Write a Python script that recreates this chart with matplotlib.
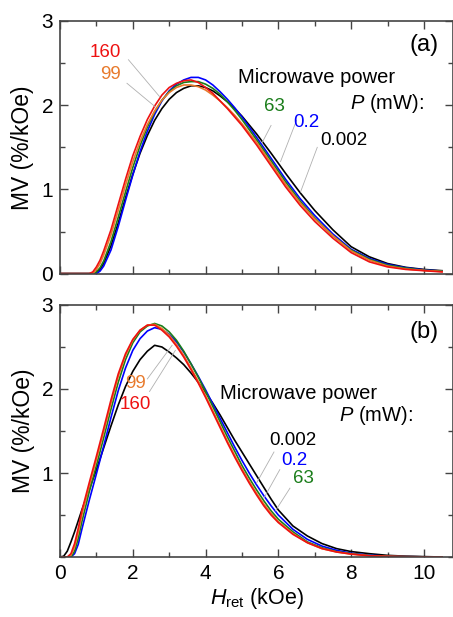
import matplotlib
matplotlib.use("Agg")
import matplotlib.pyplot as plt
from matplotlib.ticker import MultipleLocator

plt.rcParams['font.family'] = ['Liberation Sans', 'DejaVu Sans']
plt.rcParams['mathtext.fontset'] = 'custom'
plt.rcParams['mathtext.rm'] = 'Liberation Sans'
plt.rcParams['mathtext.it'] = 'Liberation Sans:italic'

# power levels (mW) and colours
powers = ['0.002', '0.2', '63', '99', '160']
colors = ['black', '#0000ff', '#1a7d1a', '#e87a2c', '#ee1111']

# panel (a)
xa = [0, 0.8, 0.9, 1.0, 1.1, 1.2, 1.4, 1.6, 1.8, 2.0, 2.2, 2.4, 2.6, 2.8, 3.0, 3.2, 3.4, 3.6,
      3.8, 4.0, 4.2, 4.4, 4.6, 4.8, 5.0, 5.4, 5.8, 6.2, 6.6, 7.0, 7.5, 8.0, 8.5, 9.0, 9.5, 10.0, 10.5]
a_0002 = [0, 0, 0, 0.01, 0.05, 0.12, 0.33, 0.60, 0.90, 1.18, 1.43, 1.64, 1.82, 1.96, 2.07, 2.15, 2.20, 2.23,
          2.23, 2.21, 2.17, 2.11, 2.04, 1.96, 1.87, 1.66, 1.43, 1.19, 0.96, 0.75, 0.52, 0.32, 0.20, 0.12, 0.075, 0.05, 0.035]
a_02 = [0, 0, 0, 0, 0.03, 0.09, 0.28, 0.56, 0.87, 1.17, 1.45, 1.69, 1.89, 2.05, 2.17, 2.25, 2.30, 2.33,
        2.33, 2.30, 2.24, 2.16, 2.07, 1.97, 1.86, 1.62, 1.37, 1.12, 0.89, 0.69, 0.47, 0.29, 0.18, 0.11, 0.07, 0.045, 0.03]
a_63 = [0, 0, 0, 0.02, 0.07, 0.15, 0.38, 0.67, 0.97, 1.26, 1.52, 1.74, 1.92, 2.06, 2.16, 2.23, 2.27, 2.28,
        2.28, 2.25, 2.20, 2.13, 2.04, 1.94, 1.83, 1.59, 1.34, 1.09, 0.86, 0.66, 0.45, 0.28, 0.17, 0.10, 0.065, 0.04, 0.03]
a_99 = [0, 0, 0, 0.05, 0.12, 0.22, 0.46, 0.75, 1.05, 1.33, 1.57, 1.77, 1.93, 2.06, 2.15, 2.21, 2.24, 2.24,
        2.22, 2.18, 2.12, 2.05, 1.97, 1.88, 1.78, 1.56, 1.31, 1.06, 0.84, 0.65, 0.45, 0.27, 0.16, 0.09, 0.055, 0.038, 0.025]
a_160 = [0, 0, 0.02, 0.08, 0.16, 0.27, 0.52, 0.82, 1.12, 1.40, 1.63, 1.83, 1.99, 2.12, 2.21, 2.26, 2.29, 2.30,
         2.27, 2.21, 2.14, 2.05, 1.96, 1.86, 1.76, 1.53, 1.28, 1.03, 0.81, 0.62, 0.42, 0.25, 0.14, 0.08, 0.05, 0.035, 0.02]

# panel (b)
xb = [0, 0.1, 0.2, 0.3, 0.4, 0.5, 0.6, 0.8, 1.0, 1.2, 1.4, 1.6, 1.8, 2.0, 2.2, 2.4, 2.6, 2.8, 3.0, 3.2, 3.4,
      3.6, 3.8, 4.0, 4.2, 4.4, 4.6, 4.8, 5.0, 5.2, 5.4, 5.6, 5.8, 6.0, 6.4, 6.8, 7.2, 7.6, 8.0, 8.5, 9.0, 9.5, 10.0, 10.5]
b_0002 = [0, 0.01, 0.07, 0.18, 0.30, 0.43, 0.56, 0.80, 1.04, 1.30, 1.56, 1.81, 2.03, 2.21, 2.35, 2.45, 2.52, 2.50, 2.44, 2.37, 2.29,
          2.19, 2.08, 1.96, 1.83, 1.69, 1.54, 1.39, 1.25, 1.11, 0.97, 0.83, 0.69, 0.56, 0.37, 0.25, 0.16, 0.10, 0.065, 0.04, 0.02, 0.01, 0.005, 0]
b_02 = [0, 0, 0, 0, 0.04, 0.15, 0.33, 0.67, 0.99, 1.32, 1.66, 1.98, 2.25, 2.46, 2.60, 2.69, 2.73, 2.71, 2.65, 2.56, 2.44,
        2.30, 2.15, 1.99, 1.82, 1.65, 1.48, 1.31, 1.15, 1.00, 0.86, 0.73, 0.61, 0.50, 0.33, 0.21, 0.13, 0.08, 0.045, 0.022, 0.01, 0.005, 0.002, 0]
b_63 = [0, 0, 0, 0, 0.07, 0.22, 0.42, 0.77, 1.09, 1.42, 1.76, 2.08, 2.35, 2.55, 2.68, 2.75, 2.78, 2.75, 2.68, 2.58, 2.45,
        2.30, 2.14, 1.97, 1.79, 1.61, 1.43, 1.26, 1.09, 0.94, 0.80, 0.67, 0.55, 0.45, 0.30, 0.18, 0.11, 0.065, 0.04, 0.018, 0.009, 0.005, 0.002, 0]
b_99 = [0, 0, 0, 0.02, 0.12, 0.29, 0.50, 0.84, 1.16, 1.49, 1.83, 2.15, 2.40, 2.58, 2.70, 2.76, 2.77, 2.72, 2.64, 2.53, 2.40,
        2.25, 2.09, 1.92, 1.74, 1.56, 1.38, 1.21, 1.05, 0.90, 0.76, 0.63, 0.52, 0.42, 0.28, 0.17, 0.10, 0.06, 0.035, 0.015, 0.008, 0.004, 0.002, 0]
b_160 = [0, 0, 0, 0.04, 0.16, 0.34, 0.55, 0.88, 1.20, 1.53, 1.87, 2.18, 2.42, 2.59, 2.70, 2.76, 2.76, 2.70, 2.62, 2.51, 2.38,
         2.23, 2.07, 1.90, 1.72, 1.54, 1.36, 1.19, 1.03, 0.88, 0.74, 0.61, 0.50, 0.41, 0.27, 0.17, 0.10, 0.06, 0.035, 0.015, 0.008, 0.004, 0.002, 0]

curves_a = [a_0002, a_02, a_63, a_99, a_160]
curves_b = [b_0002, b_02, b_63, b_99, b_160]

# label text positions and leader lines: (text x, text y, line from, line to)
labels_a = [(7.79, 1.58, (7.07, 1.50), (6.61, 0.97)),
            (6.78, 1.79, (6.50, 1.82), (6.06, 1.33)),
            (5.90, 1.98, (5.80, 1.76), (5.56, 1.56)),
            (1.40, 2.36, (1.84, 2.26), (2.62, 1.98)),
            (1.24, 2.62, (1.88, 2.54), (2.74, 2.10))]
labels_b = [(6.40, 1.39, (5.88, 1.25), (5.40, 0.88)),
            (6.43, 1.15, (6.04, 1.04), (5.60, 0.70)),
            (6.70, 0.94, (6.32, 0.82), (5.92, 0.55)),
            (2.08, 2.06, (2.40, 2.12), (3.08, 2.52)),
            (2.08, 1.81, (2.46, 1.97), (3.17, 2.46))]

fig = plt.figure(figsize=(4.53, 6.17), dpi=100)
ax1 = fig.add_axes([0.1325, 0.5565, 0.8675, 0.4095])
ax2 = fig.add_axes([0.1325, 0.0972, 0.8675, 0.4085])

spine_col = '#444444'
for ax, xs, curves, labels, tag in [(ax1, xa, curves_a, labels_a, '(a)'),
                                     (ax2, xb, curves_b, labels_b, '(b)')]:
    for ys, c in zip(curves, colors):
        ax.plot(xs, ys, color=c, lw=1.2)
    for (tx, ty, p0, p1), txt, c in zip(labels, powers, colors):
        ax.plot([p0[0], p1[0]], [p0[1], p1[1]], color='#b0b0b0', lw=0.6)
        ax.text(tx, ty, txt, color=c, fontsize=13.5, ha='center', va='center')
    ax.set_xlim(0, 10.8)
    ax.set_ylim(0, 3)
    ax.xaxis.set_major_locator(MultipleLocator(2))
    ax.xaxis.set_minor_locator(MultipleLocator(1))
    ax.yaxis.set_major_locator(MultipleLocator(1))
    ax.yaxis.set_minor_locator(MultipleLocator(0.5))
    ax.tick_params(which='both', direction='in', top=True, right=True,
                   labelsize=15, color=spine_col, width=1.0)
    ax.tick_params(which='major', length=6, pad=5)
    ax.tick_params(which='minor', length=3.5)
    for s in ax.spines.values():
        s.set_color(spine_col)
        s.set_linewidth(1.2)
    ax.set_ylabel('MV (%/kOe)', fontsize=16.5, labelpad=5)
    ax.text(10.0, 2.72 if tag == '(a)' else 2.68, tag, fontsize=17, ha='center', va='center')

ax1.set_yticks([0, 1, 2, 3])
ax1.tick_params(labelbottom=False)
ax2.set_yticks([1, 2, 3])
ax2.set_xticks([0, 2, 4, 6, 8, 10])
ax2.set_xlabel(r'$\it{H}_{\rm ret}$ (kOe)', fontsize=15.5, labelpad=2)

ax1.text(4.88, 2.33, 'Microwave power', fontsize=14.5, ha='left', va='center')
ax1.text(10.0, 2.02, r'$\it{P}$ (mW):', fontsize=14.5, ha='right', va='center')
ax2.text(4.39, 1.95, 'Microwave power', fontsize=14.5, ha='left', va='center')
ax2.text(9.69, 1.69, r'$\it{P}$ (mW):', fontsize=14.5, ha='right', va='center')

fig.savefig('out.png', dpi=100)
